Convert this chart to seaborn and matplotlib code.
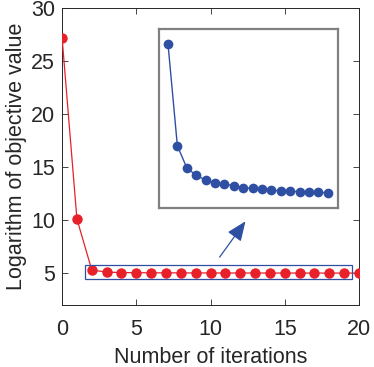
import numpy as np
import pandas as pd
import matplotlib
matplotlib.use("Agg")
import matplotlib.pyplot as plt
from matplotlib.patches import Rectangle
import seaborn as sns

# data
iterations = list(range(21))
log_objective = [27.2, 10.1, 5.300, 5.100, 5.057, 5.042, 5.033, 5.028, 5.025,
                 5.022, 5.018, 5.017, 5.015, 5.013, 5.012, 5.011, 5.010,
                 5.009, 5.009, 5.008, 5.006]
zoom_start, zoom_end = 2, 19
x_ticks = [0, 5, 10, 15, 20]
y_ticks = [5, 10, 15, 20, 25, 30]

red = "#e8202a"
blue = "#2f4fa3"
text_col = "#262626"

df = pd.DataFrame({"iter": iterations, "value": log_objective})
zoom_df = df[(df["iter"] >= zoom_start) & (df["iter"] <= zoom_end)]

sns.set_style("ticks")
plt.rcParams["font.family"] = ["Liberation Sans", "DejaVu Sans"]

fig = plt.figure(figsize=(3.74, 3.67), dpi=100)
ax = fig.add_axes([0.166, 0.169, 0.794, 0.809])

sns.lineplot(data=df, x="iter", y="value", ax=ax, color=red, lw=0.9,
             marker="o", markersize=7.5, markeredgewidth=0, zorder=3)
ax.set_xlim(0, 20)
ax.set_ylim(2, 30)
ax.set_xticks(x_ticks)
ax.set_yticks(y_ticks)
ax.tick_params(direction="in", length=4, width=0.6, top=True, right=True,
               labelsize=15.5, colors=text_col, pad=5)
ax.tick_params(axis="x", pad=10)
for s in ax.spines.values():
    s.set_linewidth(0.7)
    s.set_color(text_col)
    s.set_visible(True)
ax.set_xlabel("Number of iterations", fontsize=15.5, color=text_col, labelpad=5)
ax.set_ylabel("Logarithm of objective value", fontsize=15.5, color=text_col, labelpad=3)
for lab in ax.get_xticklabels() + ax.get_yticklabels():
    lab.set_color(text_col)

# highlight box around the zoomed region
ax.add_patch(Rectangle((1.55, 4.43), 17.95, 1.32, fill=False,
                       edgecolor=blue, lw=0.9, zorder=4))
ax.annotate("", xy=(12.46, 10.1), xytext=(10.5, 6.3),
            arrowprops=dict(arrowstyle="-|>,head_length=1.2,head_width=0.5",
                            color=blue, lw=0.9))

# inset
ins = fig.add_axes([0.424, 0.433, 0.479, 0.488])
sns.lineplot(data=zoom_df, x="iter", y="value", ax=ins, color=blue, lw=1.0,
             marker="o", markersize=7, markeredgewidth=0)
ins.set_xlim(1.0, 20.06)
ins.set_ylim(4.978, 5.329)
ins.set_xticks([])
ins.set_yticks([])
ins.set_xlabel("")
ins.set_ylabel("")
for s in ins.spines.values():
    s.set_visible(True)
    s.set_color("#808080")
    s.set_linewidth(1.6)

fig.savefig("out.png", dpi=100)
